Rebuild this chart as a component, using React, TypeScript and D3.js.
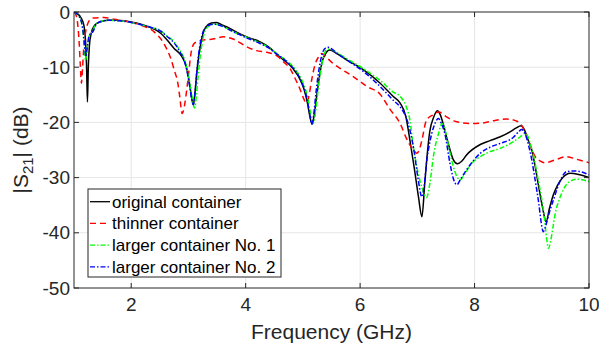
import React from "react";
import * as d3 from "d3";

// Transmission |S21| of the container variants versus frequency (GHz)
const originalFreq = [1.00,1.06,1.12,1.17,1.20,1.22,1.235,1.25,1.27,1.30,1.36,1.45,1.60,1.75,2.00,2.20,2.40,2.52,2.62,2.75,2.88,2.96,3.02,3.06,3.085,3.11,3.15,3.22,3.30,3.40,3.49,3.60,3.73,3.85,4.02,4.25,4.40,4.54,4.65,4.77,4.88,4.95,5.02,5.08,5.12,5.16,5.20,5.25,5.33,5.42,5.47,5.60,5.77,6.06,6.35,6.58,6.70,6.80,6.87,6.95,7.02,7.08,7.13,7.18,7.22,7.28,7.35,7.40,7.45,7.54,7.63,7.70,7.78,7.86,8.10,8.27,8.45,8.62,8.73,8.81,8.87,8.93,9.00,9.06,9.12,9.19,9.25,9.31,9.38,9.44,9.55,9.67,9.84,10.00];
const originalDb = [0,-0.3,-1.0,-2.3,-5,-10,-16.3,-10,-6,-3.9,-2.4,-1.8,-1.5,-1.5,-1.8,-2.3,-3.1,-3.9,-5.0,-6.6,-8.0,-9.8,-13.0,-15.8,-16.8,-15,-10.5,-5.5,-2.8,-2.0,-1.9,-2.4,-3.0,-3.7,-4.5,-5.4,-6.3,-7.6,-8.6,-9.6,-11.0,-12.2,-14.0,-16.5,-18.8,-20.3,-18.5,-14.5,-9.3,-7.2,-6.9,-7.6,-8.7,-10.5,-12.9,-15.3,-16.5,-19,-23.2,-28.5,-33.5,-37.1,-31,-25,-21.5,-19.2,-17.9,-18.6,-20.2,-23.8,-26.8,-27.5,-27.0,-25.9,-24.0,-23.3,-22.6,-21.7,-21.0,-20.6,-21.3,-23.0,-25.0,-28.0,-31.6,-35.5,-38.0,-35.5,-33.0,-31.6,-29.9,-29.2,-29.5,-30.0];

const thinnerFreq = [1.00,1.03,1.06,1.09,1.11,1.13,1.15,1.17,1.20,1.23,1.27,1.32,1.52,1.70,1.87,2.17,2.40,2.57,2.69,2.76,2.81,2.85,2.89,2.93,2.97,3.01,3.04,3.07,3.11,3.20,3.43,3.61,3.78,4.02,4.19,4.37,4.54,4.66,4.77,4.89,4.95,5.01,5.06,5.10,5.15,5.21,5.27,5.33,5.40,5.47,5.65,5.88,6.12,6.35,6.52,6.70,6.81,6.93,6.99,7.04,7.08,7.16,7.28,7.37,7.51,7.69,7.92,8.15,8.33,8.56,8.74,8.82,8.88,8.94,9.00,9.06,9.15,9.23,9.41,9.61,9.79,10.00];
const thinnerDb = [0,-0.4,-1.8,-5.5,-9.5,-12.9,-10,-6.6,-3.8,-2.4,-1.5,-1.1,-1.0,-1.3,-1.6,-2.4,-3.6,-5.7,-8.4,-10.8,-12.6,-15.5,-18.4,-17.0,-14.1,-10.5,-7.8,-6.3,-5.6,-5.2,-4.9,-4.5,-4.9,-6.3,-7.0,-7.3,-7.9,-9.0,-10.2,-12.6,-14.0,-15.6,-16.5,-15.5,-12.5,-9.6,-8.2,-7.5,-8.0,-8.8,-10.2,-11.7,-13.5,-14.9,-17.6,-20.2,-22.9,-25.0,-25.6,-24.8,-23.2,-19.6,-18.6,-18.1,-19.0,-19.9,-20.2,-20.1,-19.7,-19.4,-19.8,-20.5,-21.7,-23.2,-24.9,-26.2,-27.0,-27.3,-26.8,-26.2,-26.7,-27.3];

const larger1Freq = [1.00,1.05,1.10,1.15,1.18,1.20,1.22,1.25,1.28,1.32,1.37,1.45,1.58,1.80,2.00,2.17,2.35,2.52,2.62,2.75,2.85,2.92,2.98,3.04,3.08,3.11,3.14,3.17,3.20,3.25,3.30,3.38,3.46,3.60,3.73,3.85,4.02,4.25,4.40,4.54,4.66,4.77,4.88,4.95,5.02,5.07,5.12,5.18,5.21,5.25,5.30,5.36,5.42,5.47,5.60,5.77,6.06,6.35,6.58,6.70,6.80,6.87,6.93,7.00,7.08,7.16,7.22,7.28,7.37,7.43,7.47,7.51,7.57,7.63,7.69,7.75,7.82,7.92,8.10,8.27,8.45,8.68,8.80,8.88,8.93,8.97,9.03,9.09,9.15,9.21,9.26,9.29,9.33,9.37,9.41,9.48,9.55,9.65,9.79,10.00];
const larger1Db = [0,-0.3,-1.0,-3.0,-6.0,-8.8,-7.5,-5.0,-4.0,-3.6,-2.4,-1.8,-1.5,-1.6,-1.9,-2.3,-2.8,-3.4,-4.3,-5.4,-7.0,-8.3,-10.5,-13.8,-16.5,-17.4,-15.0,-11.5,-8.5,-5.0,-3.2,-2.4,-2.2,-2.6,-3.3,-3.9,-4.6,-5.6,-6.4,-7.5,-8.4,-9.3,-10.6,-11.7,-13.3,-14.9,-17.5,-20.2,-19.0,-15.5,-11.5,-8.1,-6.8,-6.7,-7.4,-8.5,-10.3,-12.4,-14.5,-15.3,-17.0,-19.6,-24.4,-28.5,-31.8,-33.6,-31,-26.2,-22.0,-20.2,-20.8,-22.6,-25.5,-28.0,-29.8,-30.4,-29.5,-27.8,-26.2,-25.3,-24.7,-23.5,-22.6,-22.0,-22.5,-23.8,-26.0,-29.2,-32.5,-36.4,-41,-42.8,-41.5,-39,-36.5,-34,-32.2,-30.8,-30.3,-30.7];

const larger2Freq = [1.00,1.05,1.10,1.15,1.18,1.21,1.23,1.26,1.29,1.33,1.38,1.45,1.58,1.80,2.00,2.17,2.35,2.52,2.62,2.75,2.85,2.92,2.98,3.03,3.06,3.085,3.11,3.14,3.18,3.23,3.30,3.38,3.45,3.60,3.73,3.85,4.02,4.25,4.40,4.54,4.66,4.77,4.88,4.95,5.02,5.07,5.11,5.16,5.19,5.23,5.28,5.34,5.40,5.44,5.60,5.77,6.06,6.35,6.58,6.70,6.80,6.87,6.94,7.01,7.08,7.12,7.16,7.22,7.28,7.37,7.42,7.48,7.57,7.63,7.69,7.76,7.86,8.10,8.27,8.45,8.68,8.78,8.82,8.88,8.94,9.00,9.06,9.12,9.17,9.20,9.25,9.31,9.38,9.50,9.61,9.76,10.00];
const larger2Db = [0,-0.3,-1.0,-2.8,-5.5,-8.1,-6.5,-4.5,-3.9,-3.6,-2.4,-1.8,-1.5,-1.6,-1.9,-2.3,-2.8,-3.5,-4.4,-5.6,-7.2,-8.6,-11,-14.0,-16.0,-16.8,-15.2,-11.5,-7.5,-4.5,-2.8,-2.3,-2.2,-2.6,-3.3,-3.9,-4.7,-5.7,-6.5,-7.6,-8.5,-9.5,-10.8,-12.0,-13.8,-15.6,-18.0,-20.3,-18.5,-14.5,-10.5,-7.5,-6.5,-6.4,-7.5,-8.7,-10.8,-13.5,-16.0,-17.2,-19.0,-21.4,-25.0,-30.0,-33.5,-31.5,-27.4,-23.5,-21.0,-19.3,-20.2,-22.0,-27.4,-30.2,-31.3,-30.2,-28.6,-25.6,-24.5,-23.8,-22.7,-21.6,-21.3,-22.0,-24.0,-26.8,-30.5,-34.5,-38.5,-39.8,-38.5,-36.2,-34.0,-30.5,-28.9,-28.8,-29.5];

const seriesNames = ["original container", "thinner container", "larger container No. 1", "larger container No. 2"];
const seriesColors = ["#000000", "#ff0000", "#00ff00", "#0000ff"];
const seriesDash = [null, "6,4", "5,2,1.5,2", "5,2,1.5,2"];
const seriesFreq = [originalFreq, thinnerFreq, larger1Freq, larger2Freq];
const seriesDb = [originalDb, thinnerDb, larger1Db, larger2Db];

const xTicks = [2, 4, 6, 8, 10];
const yTicks = [0, -10, -20, -30, -40, -50];

const W = 599;
const H = 345;
const left = 74, right = 589, top = 12, bottom = 288;
const axisColor = "#262626";
const font = "'Liberation Sans', Arial, Helvetica, sans-serif";

export default function App() {
  const x = d3.scaleLinear().domain([1, 10]).range([left, right]);
  const y = d3.scaleLinear().domain([-50, 0]).range([bottom, top]);

  const line = d3
    .line<[number, number]>()
    .x((d) => x(d[0]))
    .y((d) => y(d[1]))
    .curve(d3.curveMonotoneX);

  const tickLen = 5;
  const legendX = 88, legendY = 189, legendW = 193, legendH = 88;
  const rowH = 21.7;

  return (
    <svg
      width={W}
      height={H}
      style={{ position: "absolute", left: 0, top: 0, background: "#fff" }}
      fontFamily={font}
    >
      <defs>
        <clipPath id="plot-area">
          <rect x={left} y={top} width={right - left} height={bottom - top} />
        </clipPath>
      </defs>
      <rect x={0} y={0} width={W} height={H} fill="#fff" />

      {/* grid */}
      <g stroke="#e6e6e6" strokeWidth={1}>
        {xTicks.filter((t) => t < 10).map((t) => (
          <line key={"gx" + t} x1={x(t)} x2={x(t)} y1={top} y2={bottom} />
        ))}
        {yTicks.filter((t) => t > -50 && t < 0).map((t) => (
          <line key={"gy" + t} x1={left} x2={right} y1={y(t)} y2={y(t)} />
        ))}
      </g>

      {/* curves */}
      <g clipPath="url(#plot-area)" fill="none">
        {seriesFreq.map((fs, i) => {
          const pts = fs.map((f, j) => [f, seriesDb[i][j]] as [number, number]);
          return (
            <path
              key={seriesNames[i]}
              d={line(pts) || ""}
              stroke={seriesColors[i]}
              strokeWidth={1.5}
              strokeDasharray={seriesDash[i] || undefined}
              strokeLinejoin="round"
            />
          );
        })}
      </g>

      {/* axes box and ticks */}
      <g stroke={axisColor} strokeWidth={1} fill="none">
        <rect x={left} y={top} width={right - left} height={bottom - top} />
        {xTicks.map((t) => (
          <g key={"tx" + t}>
            <line x1={x(t)} x2={x(t)} y1={bottom} y2={bottom - tickLen} />
            <line x1={x(t)} x2={x(t)} y1={top} y2={top + tickLen} />
          </g>
        ))}
        {yTicks.map((t) => (
          <g key={"ty" + t}>
            <line x1={left} x2={left + tickLen} y1={y(t)} y2={y(t)} />
            <line x1={right} x2={right - tickLen} y1={y(t)} y2={y(t)} />
          </g>
        ))}
      </g>

      {/* tick labels */}
      <g fill={axisColor} fontSize={19}>
        {xTicks.map((t) => (
          <text key={"lx" + t} x={x(t)} y={311} textAnchor="middle">
            {t}
          </text>
        ))}
        {yTicks.map((t) => (
          <text key={"ly" + t} x={left - 4} y={y(t) + 6.5} textAnchor="end">
            {t === 0 ? "0" : "-" + Math.abs(t)}
          </text>
        ))}
      </g>

      {/* axis labels */}
      <text x={(left + right) / 2} y={339} textAnchor="middle" fontSize={21} fill={axisColor}>
        Frequency (GHz)
      </text>
      <text
        transform={`translate(28,${(top + bottom) / 2}) rotate(-90)`}
        textAnchor="middle"
        fontSize={21}
        fill={axisColor}
      >
        |S<tspan fontSize={15} dy={5}>21</tspan>
        <tspan dy={-5}>| (dB)</tspan>
      </text>

      {/* legend */}
      <g>
        <rect
          x={legendX}
          y={legendY}
          width={legendW}
          height={legendH}
          fill="#fff"
          stroke={axisColor}
          strokeWidth={1}
        />
        {seriesNames.map((name, i) => {
          const cy = legendY + 12.7 + i * rowH;
          return (
            <g key={"lg" + name}>
              <line
                x1={90}
                x2={110}
                y1={cy}
                y2={cy}
                stroke={seriesColors[i]}
                strokeWidth={1.3}
                strokeDasharray={seriesDash[i] || undefined}
              />
              <text x={112} y={cy + 6} fontSize={17} fill="#000">
                {name}
              </text>
            </g>
          );
        })}
      </g>
    </svg>
  );
}
